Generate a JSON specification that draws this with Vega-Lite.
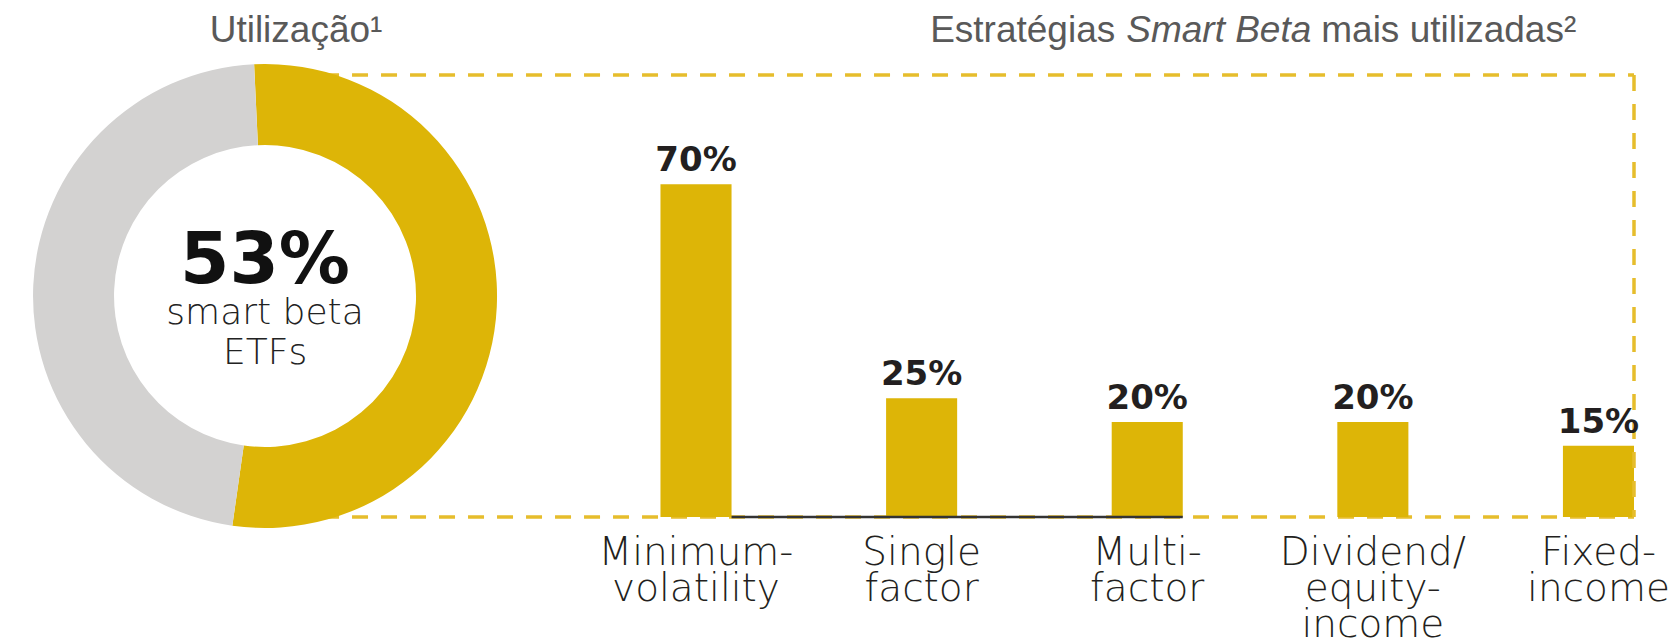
{
  "$schema": "https://vega.github.io/schema/vega-lite/v6.json",
  "background": "white",
  "autosize": "none",
  "width": 1634,
  "height": 442,
  "padding": {"left": 0, "top": 75, "right": 40, "bottom": 121},
  "config": {"view": {"stroke": null}, "axisY": {"disable": true}},
  "layer": [
    {
      "data": {"values": [
        {"panel": "Utilização", "segment": "smart beta ETFs", "value": 53, "order": 1},
        {"panel": "Utilização", "segment": "outros", "value": 47, "order": 2}
      ]},
      "layer": [
        {
          "data": {"values": [{"edge": "top"}]},
          "mark": {"type": "rule", "color": "#E6BD2C", "strokeWidth": 3.5, "strokeDash": [16, 13]},
          "encoding": {
            "x": {"datum": "Utilização", "axis": null},
            "x2": {"value": "width"},
            "y": {"datum": 93, "scale": {"domain": [0, 93]}}
          }
        },
        {
          "data": {"values": [{"edge": "bottom"}]},
          "mark": {"type": "rule", "color": "#E6BD2C", "strokeWidth": 3.5, "strokeDash": [16, 13]},
          "encoding": {
            "x": {"datum": "Utilização", "axis": null},
            "x2": {"value": "width"},
            "y": {"datum": 0, "scale": {"domain": [0, 93]}}
          }
        },
        {
          "mark": {"type": "arc", "outerRadius": 232, "innerRadius": 151},
          "encoding": {
            "x": {"field": "panel", "type": "nominal", "scale": {"type": "point", "padding": 0, "align": 0.1622}, "axis": null},
            "theta": {"field": "value", "type": "quantitative", "stack": true, "scale": {"range": [-0.047, 6.236]}},
            "color": {"field": "segment", "type": "nominal", "scale": {"domain": ["smart beta ETFs", "outros"], "range": ["#DDB507", "#D3D2D1"]}, "legend": null},
            "order": {"field": "order", "type": "quantitative"}
          }
        },
        {
          "data": {"values": [{"t": "53%"}]},
          "mark": {"type": "text", "font": "DejaVu Sans", "fontSize": 71, "fontWeight": "bold", "baseline": "alphabetic", "align": "center", "dy": -13, "color": "#111111"},
          "encoding": {"x": {"datum": "Utilização", "axis": null}, "text": {"field": "t", "type": "nominal"}}
        },
        {
          "data": {"values": [{"t": "smart beta"}]},
          "mark": {"type": "text", "font": "DejaVu Sans", "fontSize": 36, "fontWeight": 300, "baseline": "alphabetic", "align": "center", "dy": 28, "color": "#222222"},
          "encoding": {"x": {"datum": "Utilização", "axis": null}, "text": {"field": "t", "type": "nominal"}}
        },
        {
          "data": {"values": [{"t": "ETFs"}]},
          "mark": {"type": "text", "font": "DejaVu Sans", "fontSize": 36, "fontWeight": 300, "baseline": "alphabetic", "align": "center", "dy": 68, "color": "#222222"},
          "encoding": {"x": {"datum": "Utilização", "axis": null}, "text": {"field": "t", "type": "nominal"}}
        },
        {
          "data": {"values": [{"t": "Utilização¹"}]},
          "mark": {"type": "text", "font": "Liberation Sans", "fontSize": 37, "baseline": "alphabetic", "align": "center", "dx": 31, "color": "#595959"},
          "encoding": {
            "x": {"datum": "Utilização", "axis": null},
            "y": {"datum": 100, "scale": {"domain": [0, 93]}},
            "text": {"field": "t", "type": "nominal"}
          }
        }
      ]
    },
    {
      "data": {"values": [
        {"strategy": "Minimum-volatility", "value": 70, "label": "70%"},
        {"strategy": "Single factor", "value": 25, "label": "25%"},
        {"strategy": "Multi-factor", "value": 20, "label": "20%"},
        {"strategy": "Dividend/equity-income", "value": 20, "label": "20%"},
        {"strategy": "Fixed-income", "value": 15, "label": "15%"}
      ]},
      "layer": [
        {
          "mark": {"type": "bar", "color": "#DDB507"},
          "encoding": {
            "x": {
              "field": "strategy", "type": "nominal",
              "scale": {
                "domain": ["Minimum-volatility", "Single factor", "Multi-factor", "Dividend/equity-income", "Fixed-income"],
                "rangeMin": 267,
                "paddingInner": 0.685, "paddingOuter": 0.872, "align": 1
              },
              "axis": {
                "orient": "bottom", "title": null, "domain": false, "ticks": false, "tickSize": 0, "labelAngle": 0,
                "labelExpr": "split(replace(replace(datum.value, regexp('([-/])', 'g'), '$1|'), ' ', '|'), '|')",
                "labelFont": "DejaVu Sans", "labelFontSize": 39, "labelFontWeight": 300, "labelColor": "#231F20",
                "labelLineHeight": 36, "labelBaseline": "alphabetic", "labelPadding": 47,
                "labelLimit": 400, "labelOverlap": false, "labelBound": false
              }
            },
            "y": {"field": "value", "type": "quantitative", "scale": {"domain": [0, 93], "nice": false}}
          }
        },
        {
          "data": {"values": [{"from": "Minimum-volatility", "to": "Multi-factor"}]},
          "mark": {"type": "rule", "color": "#333333", "strokeWidth": 2.5},
          "encoding": {
            "x": {"field": "from", "type": "nominal", "bandPosition": 1},
            "x2": {"field": "to", "bandPosition": 1},
            "y": {"datum": 0}
          }
        },
        {
          "data": {"values": [{"edge": "right"}]},
          "mark": {"type": "rule", "color": "#E6BD2C", "strokeWidth": 3.5, "strokeDash": [16, 13]},
          "encoding": {
            "x": {"value": "width"},
            "y": {"datum": 93},
            "y2": {"datum": 0}
          }
        },
        {
          "mark": {"type": "text", "font": "DejaVu Sans", "fontSize": 34, "fontWeight": "bold", "baseline": "alphabetic", "dy": -13, "color": "#231F20"},
          "encoding": {
            "x": {"field": "strategy", "type": "nominal"},
            "y": {"field": "value", "type": "quantitative"},
            "text": {"field": "label", "type": "nominal"}
          }
        },
        {
          "data": {"values": [{"t": "Estratégias"}]},
          "mark": {"type": "text", "font": "Liberation Sans", "fontSize": 37, "baseline": "alphabetic", "align": "right", "dx": -32, "color": "#595959"},
          "encoding": {"x": {"datum": "Multi-factor"}, "y": {"datum": 100}, "text": {"field": "t", "type": "nominal"}}
        },
        {
          "data": {"values": [{"t": "Smart Beta"}]},
          "mark": {"type": "text", "font": "Liberation Sans", "fontSize": 37, "fontStyle": "italic", "baseline": "alphabetic", "align": "left", "dx": -21, "color": "#595959"},
          "encoding": {"x": {"datum": "Multi-factor"}, "y": {"datum": 100}, "text": {"field": "t", "type": "nominal"}}
        },
        {
          "data": {"values": [{"t": "mais utilizadas²"}]},
          "mark": {"type": "text", "font": "Liberation Sans", "fontSize": 37, "baseline": "alphabetic", "align": "left", "dx": 174, "color": "#595959"},
          "encoding": {"x": {"datum": "Multi-factor"}, "y": {"datum": 100}, "text": {"field": "t", "type": "nominal"}}
        }
      ]
    }
  ],
  "resolve": {"scale": {"x": "independent"}, "axis": {"x": "independent"}}
}
